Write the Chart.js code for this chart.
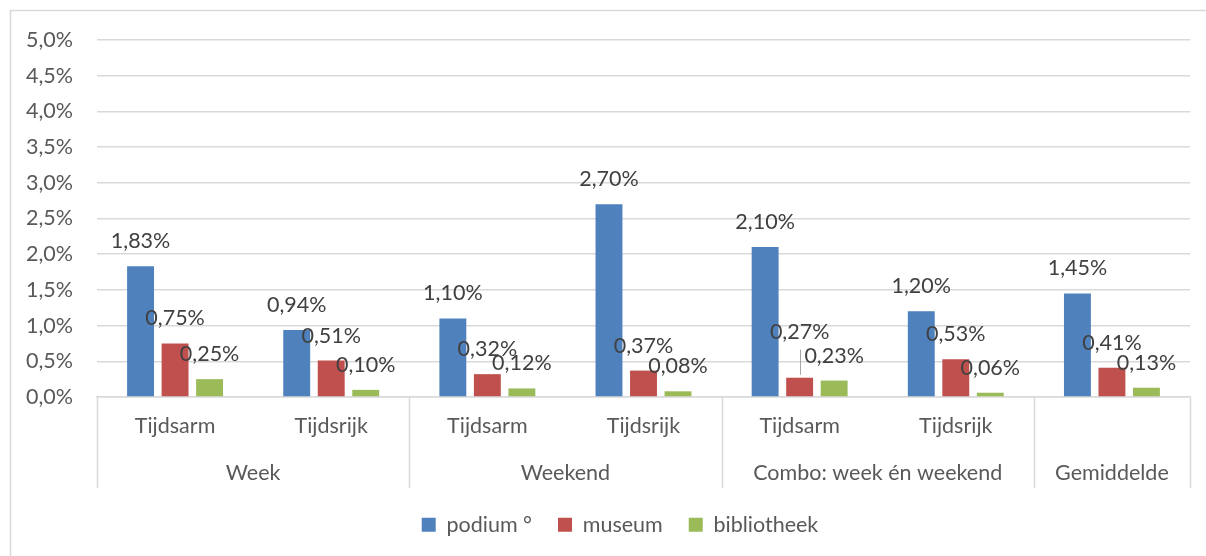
<!DOCTYPE html>
<html>
<head>
<meta charset="utf-8">
<script src="https://cdn.jsdelivr.net/npm/chart.js@4"></script>
<style>
  html, body { margin: 0; padding: 0; background: #ffffff; }
  #wrap { position: relative; width: 1206px; height: 556px; }
</style>
</head>
<body>
<div id="wrap"><canvas id="c" width="1206" height="556"></canvas></div>
<script>
const subLabels = ["Tijdsarm", "Tijdsrijk", "Tijdsarm", "Tijdsrijk", "Tijdsarm", "Tijdsrijk", ""];
const groupLabels = ["Week", "Weekend", "Combo: week én weekend", "Gemiddelde"];
const groupSizes = [2, 2, 2, 1];
const podium = [1.83, 0.94, 1.10, 2.70, 2.10, 1.20, 1.45];
const museum = [0.75, 0.51, 0.32, 0.37, 0.27, 0.53, 0.41];
const bibliotheek = [0.25, 0.10, 0.12, 0.08, 0.23, 0.06, 0.13];
const seriesNames = ["podium °", "museum", "bibliotheek"];
const yTicks = [0, 0.5, 1, 1.5, 2, 2.5, 3, 3.5, 4, 4.5, 5];

const FONT = "Lato, 'Open Sans', sans-serif";
const FS = 21.5;
const GRID = "#d9d9d9";
const TXT = "#595959";
const LBL = "#404040";

function fmt(v, d) { return v.toFixed(d).replace('.', ',') + '%'; }

const framePlugin = {
  id: 'frame',
  beforeDraw(chart) {
    const ctx = chart.ctx;
    ctx.save();
    ctx.strokeStyle = GRID;
    ctx.lineWidth = 1.5;
    ctx.strokeRect(10.5, 10.5, 1220, 600);
    ctx.restore();
  }
};

const legendShiftPlugin = {
  id: 'legendShift',
  afterLayout(chart) {
    if (chart.legend) {
      chart.legend.left += 25;
      chart.legend.right += 25;
    }
  }
};

const groupAxisPlugin = {
  id: 'groupAxis',
  afterDraw(chart) {
    const ctx = chart.ctx;
    const x = chart.scales.x;
    const area = chart.chartArea;
    const n = subLabels.length;
    const step = (x.right - x.left) / n;
    const bottom = area.bottom + 91;
    ctx.save();
    ctx.strokeStyle = GRID;
    ctx.lineWidth = 1.5;
    let idx = 0;
    const bounds = [x.left];
    groupSizes.forEach(s => { idx += s; bounds.push(x.left + idx * step); });
    bounds.forEach(bx => {
      ctx.beginPath();
      ctx.moveTo(Math.round(bx) + 0.5, area.bottom);
      ctx.lineTo(Math.round(bx) + 0.5, bottom);
      ctx.stroke();
    });
    ctx.fillStyle = TXT;
    ctx.font = FS + "px " + FONT;
    ctx.textAlign = 'center';
    ctx.textBaseline = 'middle';
    groupLabels.forEach((g, i) => {
      ctx.fillText(g, (bounds[i] + bounds[i + 1]) / 2, area.bottom + 76);
    });
    ctx.restore();
  }
};

const valueLabelPlugin = {
  id: 'valueLabels',
  afterDatasetsDraw(chart) {
    const ctx = chart.ctx;
    ctx.save();
    ctx.font = FS + "px " + FONT;
    ctx.fillStyle = LBL;
    ctx.textAlign = 'center';
    ctx.textBaseline = 'middle';
    chart.data.datasets.forEach((ds, di) => {
      const meta = chart.getDatasetMeta(di);
      meta.data.forEach((bar, i) => {
        let lift = 25;
        if (di === 1 && i === 4) {
          lift = 46;
          ctx.save();
          ctx.strokeStyle = "#a6a6a6";
          ctx.lineWidth = 1;
          ctx.beginPath();
          ctx.moveTo(Math.round(bar.x) + 0.5, bar.y - 3);
          ctx.lineTo(Math.round(bar.x) + 0.5, bar.y - lift + 18);
          ctx.stroke();
          ctx.restore();
        }
        ctx.fillText(fmt(ds.data[i], 2), bar.x, bar.y - lift);
      });
    });
    ctx.restore();
  }
};

new Chart(document.getElementById('c'), {
  type: 'bar',
  data: {
    labels: subLabels,
    datasets: [
      { label: seriesNames[0], data: podium, backgroundColor: '#4f81bd' },
      { label: seriesNames[1], data: museum, backgroundColor: '#c0504d' },
      { label: seriesNames[2], data: bibliotheek, backgroundColor: '#9bbb59' }
    ]
  },
  options: {
    responsive: false,
    animation: false,
    devicePixelRatio: 1,
    layout: { padding: { left: 0, top: 40, right: 16, bottom: 10.5 } },
    datasets: { bar: { categoryPercentage: 0.663, barPercentage: 0.78 } },
    plugins: {
      tooltip: { enabled: false },
      legend: {
        position: 'bottom',
        labels: {
          font: { family: FONT, size: FS },
          color: TXT,
          boxWidth: 14,
          boxHeight: 14,
          padding: 26
        }
      }
    },
    scales: {
      x: {
        grid: { display: false, drawTicks: false },
        border: { display: true, color: GRID, width: 1.5 },
        ticks: { font: { family: FONT, size: FS }, color: TXT, padding: 16, maxRotation: 0, autoSkip: false },
        afterFit(s) { s.height = 91; }
      },
      y: {
        min: 0, max: 5,
        grid: { color: GRID, lineWidth: 1.5, drawTicks: false },
        border: { display: false },
        afterBuildTicks(s) { s.ticks = yTicks.map(v => ({ value: v })); },
        ticks: {
          font: { family: FONT, size: FS }, color: TXT, padding: 24,
          callback: v => fmt(v, 1)
        },
        afterFit(s) { s.width = 97; }
      }
    }
  },
  plugins: [framePlugin, legendShiftPlugin, groupAxisPlugin, valueLabelPlugin]
});
</script>
</body>
</html>
